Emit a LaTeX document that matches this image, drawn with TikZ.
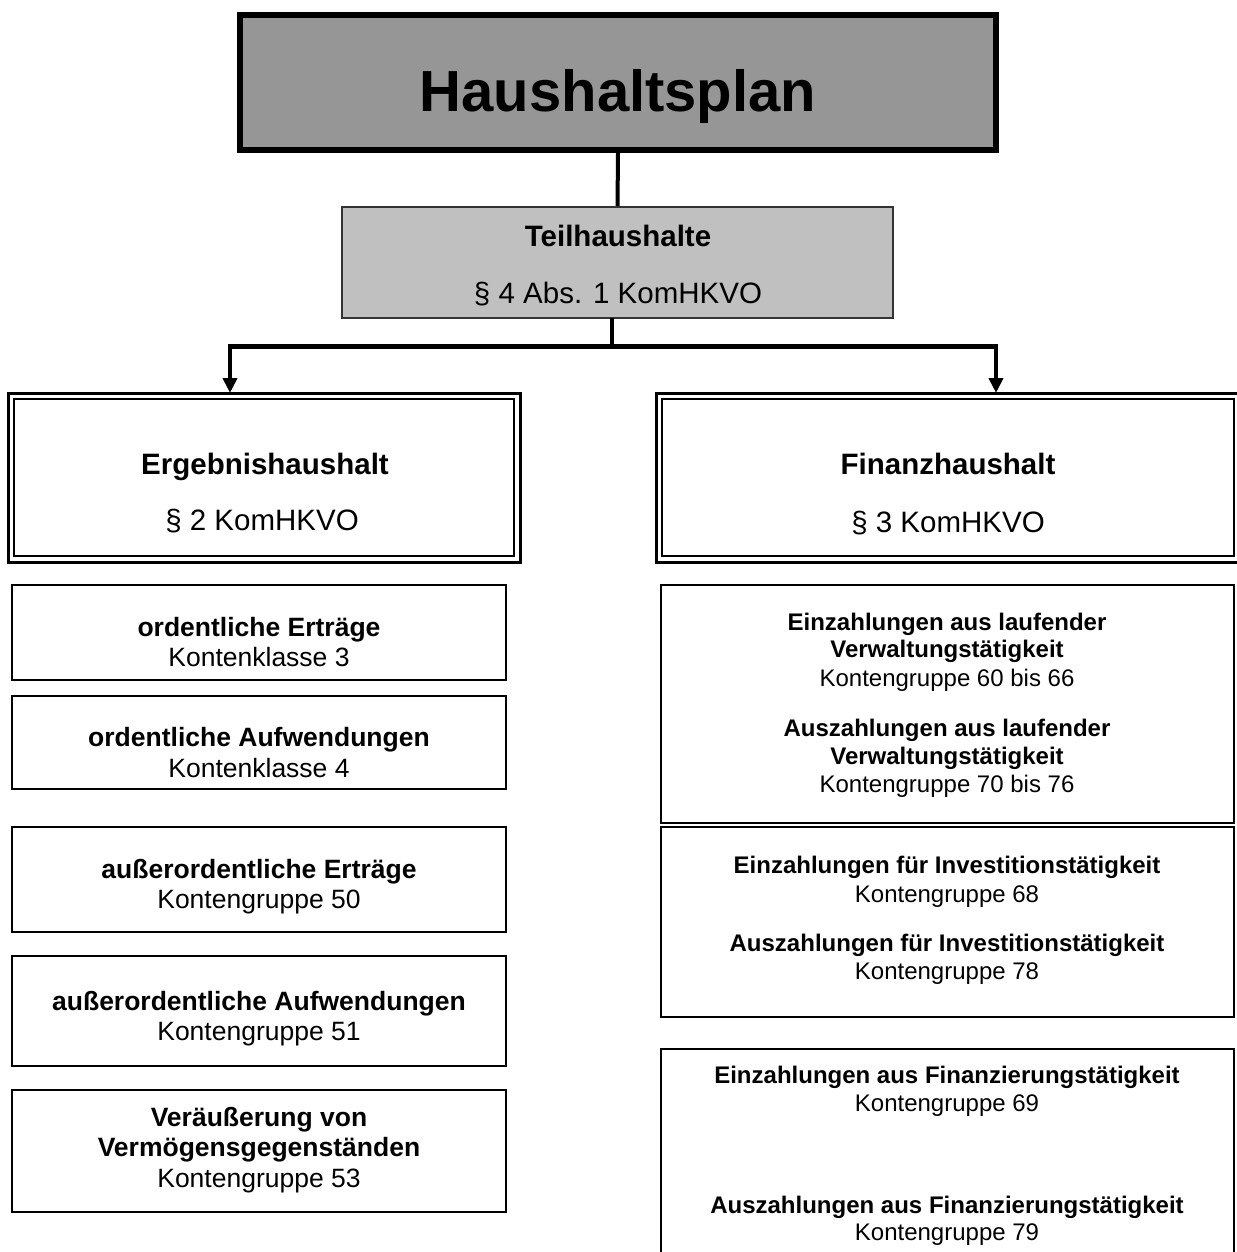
\documentclass[tikz,border=0pt]{standalone}
\usepackage{fontspec}
\setmainfont{Liberation Sans}
\usetikzlibrary{arrows.meta}
\definecolor{titlegray}{HTML}{969696}
\definecolor{subgray}{HTML}{C0C0C0}
\tikzset{
  plainbox/.style={draw, line width=2pt, fill=white, inner sep=0pt},
  conn/.style={line width=4pt},
  arr/.style={line width=4pt, -{Triangle[length=15pt,width=14pt]}},
  big/.style={font=\fontsize{26.5}{30}\selectfont, anchor=base, inner sep=0pt},
  small/.style={font=\fontsize{24}{28}\selectfont, anchor=base, inner sep=0pt},
  head/.style={font=\fontsize{29.5}{34}\selectfont, anchor=base, inner sep=0pt},
}
\begin{document}
\begin{tikzpicture}[x=1pt,y=-1pt]
\useasboundingbox (0,0) rectangle (1236,1252);
% title
\node[draw, line width=6pt, fill=titlegray, minimum width=756pt, minimum height=135pt, inner sep=0pt] (top) at (618,82.5) {};
\node[font=\bfseries\fontsize{58}{66}\selectfont, anchor=base, inner sep=0pt] (toptxt) at (618,112) {Haushaltsplan};
% Teilhaushalte
\node[draw, line width=2pt, draw=black!80, fill=subgray, minimum width=551pt, minimum height=111pt, inner sep=0pt] (teil) at (617.5,262.5) {};
\node[head, font=\bfseries\fontsize{29.5}{34}\selectfont] (teil1) at (618,246) {Teilhaushalte};
\node[head] (teil2) at (618,303) {§ 4 Abs. 1 KomHKVO};
% connectors
\draw[conn] (top.south) -- (teil.north);
\coordinate (la) at (230,346);
\coordinate (ra) at (996,346);
\coordinate (mid) at (612,346);
\draw[conn] (612,318) -- (mid);
\draw[line width=5pt] ([xshift=-2pt]la) -- ([xshift=2pt]ra);
% double boxes
\draw[line width=3pt] (8,393) rectangle (520,562);
\draw[line width=2pt] (14,399) rectangle (514,556);
\coordinate (erg) at (264,393);
\draw[line width=3pt] (656,393) rectangle (1242,562);
\draw[line width=2pt] (662,399) rectangle (1234,556);
\coordinate (fin) at (948,393);
\draw[arr] (la) -- (la |- erg);
\draw[arr] (ra) -- (ra |- fin);
\node[head, font=\bfseries\fontsize{29.5}{34}\selectfont] (erg1) at (265,474) {Ergebnishaushalt};
\node[head] (erg2) at (262,530) {§ 2 KomHKVO};
\node[head, font=\bfseries\fontsize{29.5}{34}\selectfont] (fin1) at (948,474) {Finanzhaushalt};
\node[head] (fin2) at (948,532) {§ 3 KomHKVO};
% left boxes
\node[plainbox, minimum width=494pt, minimum height=95pt] (l1) at (259,632.5) {};
\node[big, font=\bfseries\fontsize{26.5}{30}\selectfont] (l1a) at (259,636) {ordentliche Erträge};
\node[big] (l1b) at (259,666) {Kontenklasse 3};
\node[plainbox, minimum width=494pt, minimum height=93pt] (l2) at (259,742.5) {};
\node[big, font=\bfseries\fontsize{26.5}{30}\selectfont] (l2a) at (259,746) {ordentliche Aufwendungen};
\node[big] (l2b) at (259,777) {Kontenklasse 4};
\node[plainbox, minimum width=494pt, minimum height=105pt] (l3) at (259,879.5) {};
\node[big, font=\bfseries\fontsize{26.5}{30}\selectfont] (l3a) at (259,878) {außerordentliche Erträge};
\node[big] (l3b) at (259,908) {Kontengruppe 50};
\node[plainbox, minimum width=494pt, minimum height=110pt] (l4) at (259,1011) {};
\node[big, font=\bfseries\fontsize{26.5}{30}\selectfont] (l4a) at (259,1010) {außerordentliche Aufwendungen};
\node[big] (l4b) at (259,1040) {Kontengruppe 51};
\node[plainbox, minimum width=494pt, minimum height=122pt] (l5) at (259,1151) {};
\node[big, font=\bfseries\fontsize{26.5}{30}\selectfont] (l5a) at (259,1126) {Veräußerung von};
\node[big, font=\bfseries\fontsize{26.5}{30}\selectfont] (l5b) at (259,1156) {Vermögensgegenständen};
\node[big] (l5c) at (259,1187) {Kontengruppe 53};
% right boxes
\node[plainbox, minimum width=573pt, minimum height=238pt] (r1) at (947.5,704) {};
\node[small, font=\bfseries\fontsize{24}{28}\selectfont] (r1a) at (947,630) {Einzahlungen aus laufender};
\node[small, font=\bfseries\fontsize{24}{28}\selectfont] (r1b) at (947,657) {Verwaltungstätigkeit};
\node[small] (r1c) at (947,686) {Kontengruppe 60 bis 66};
\node[small, font=\bfseries\fontsize{24}{28}\selectfont] (r1d) at (947,736) {Auszahlungen aus laufender};
\node[small, font=\bfseries\fontsize{24}{28}\selectfont] (r1e) at (947,764) {Verwaltungstätigkeit};
\node[small] (r1f) at (947,792) {Kontengruppe 70 bis 76};
\node[plainbox, minimum width=573pt, minimum height=190pt] (r2) at (947.5,922) {};
\node[small, font=\bfseries\fontsize{24}{28}\selectfont] (r2a) at (947,873) {Einzahlungen für Investitionstätigkeit};
\node[small] (r2b) at (947,902) {Kontengruppe 68};
\node[small, font=\bfseries\fontsize{24}{28}\selectfont] (r2c) at (947,951) {Auszahlungen für Investitionstätigkeit};
\node[small] (r2d) at (947,979) {Kontengruppe 78};
\coordinate (r3nw) at (661,1049);
\coordinate (r3ne) at (1234,1049);
\draw[line width=2pt] (r3nw |- 0,1256) -- (r3nw) -- (r3ne) -- (r3ne |- 0,1256);
\node[small, font=\bfseries\fontsize{24}{28}\selectfont] (r3a) at (947,1083) {Einzahlungen aus Finanzierungstätigkeit};
\node[small] (r3b) at (947,1111) {Kontengruppe 69};
\node[small, font=\bfseries\fontsize{24}{28}\selectfont] (r3c) at (947,1213) {Auszahlungen aus Finanzierungstätigkeit};
\node[small] (r3d) at (947,1240) {Kontengruppe 79};
\end{tikzpicture}
\end{document}
